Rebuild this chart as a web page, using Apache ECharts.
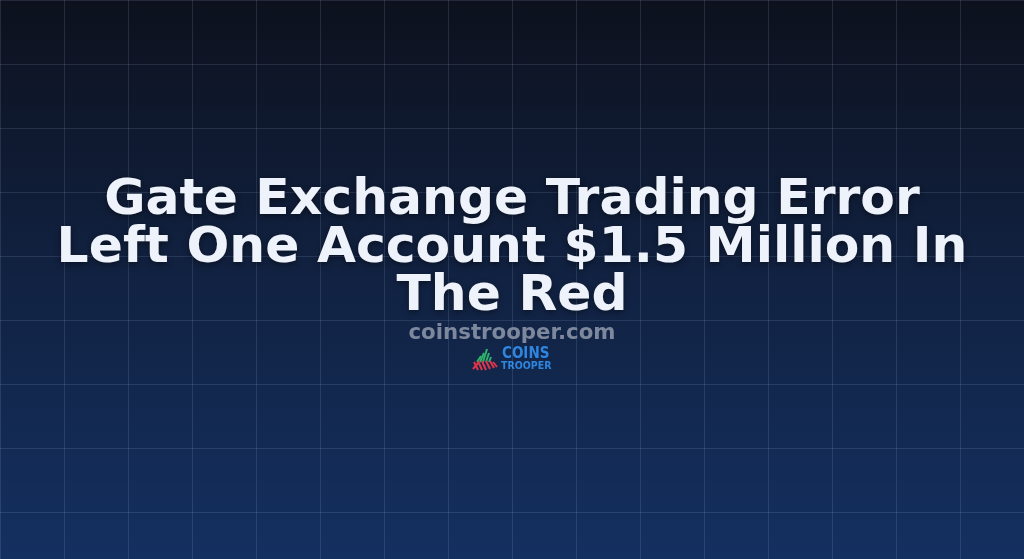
<!DOCTYPE html>
<html>
<head>
<meta charset="utf-8">
<script src="https://cdn.jsdelivr.net/npm/echarts@6/dist/echarts.min.js"></script>
<style>
  html, body { margin: 0; padding: 0; background: #0e1320; }
  #chart { width: 1024px; height: 559px; }
</style>
</head>
<body>
<div id="chart"></div>
<script>
// text of the card
var titleLines = ['Gate Exchange Trading Error', 'Left One Account $1.5 Million In', 'The Red'];
var siteName = 'coinstrooper.com';
var logoWords = ['COINS', 'TROOPER'];
// background grid ticks (px)
var gridStep = 64;
var xRange = [0, 1024];
var yRange = [0, 559];

var chart = echarts.init(document.getElementById('chart'));

var fontFam = '"DejaVu Sans", sans-serif';

// logo icon: green strokes rising, red strokes under them
var greenStrokes = [[477, 362, 481, 356], [480, 362, 484, 353], [483, 362, 487, 349], [486, 362, 489, 353], [489, 362, 491, 357]];
var redStrokes = [[474, 362, 478, 370], [478, 361, 482, 370], [482, 361, 486, 370], [486, 361, 490, 369], [490, 361, 494, 368], [493, 362, 497, 367]];

var logoGraphic = [];
greenStrokes.forEach(function (s) {
    logoGraphic.push({
        type: 'line', shape: { x1: s[0], y1: s[1], x2: s[2], y2: s[3] },
        style: { stroke: '#2fb36b', lineWidth: 2 }
    });
});
redStrokes.forEach(function (s) {
    logoGraphic.push({
        type: 'line', shape: { x1: s[0], y1: s[1], x2: s[2], y2: s[3] },
        style: { stroke: '#e0354a', lineWidth: 2 }
    });
});
logoGraphic.push({
    type: 'line', shape: { x1: 473, y1: 369, x2: 479, y2: 362 },
    style: { stroke: '#e0354a', lineWidth: 2 }
});
logoGraphic.push({
    type: 'text', left: 502, top: 347,
    style: { text: logoWords[0], fill: '#2f86e0', font: 'bold 15px "DejaVu Sans Condensed", ' + fontFam }
});
logoGraphic.push({
    type: 'text', left: 501, top: 361,
    style: { text: logoWords[1], fill: '#2f86e0', font: 'bold 10.5px "DejaVu Sans Condensed", ' + fontFam }
});

var option = {
    backgroundColor: {
        type: 'linear', x: 0, y: 0, x2: 0, y2: 1,
        colorStops: [
            { offset: 0, color: '#0d111d' },
            { offset: 0.5, color: '#112242' },
            { offset: 1, color: '#143060' }
        ]
    },
    animation: false,
    grid: { left: 0, right: 0, top: 0, bottom: 0 },
    xAxis: {
        type: 'value', min: xRange[0], max: xRange[1], interval: gridStep,
        axisLine: { show: false }, axisTick: { show: false }, axisLabel: { show: false },
        splitLine: { show: true, lineStyle: { color: 'rgba(180,200,240,0.14)', width: 1 } }
    },
    yAxis: {
        type: 'value', inverse: true, min: yRange[0], max: yRange[1], interval: gridStep,
        axisLine: { show: false }, axisTick: { show: false }, axisLabel: { show: false },
        splitLine: { show: true, lineStyle: { color: 'rgba(180,200,240,0.14)', width: 1 } }
    },
    title: [{
        text: titleLines.join('\n'),
        left: 'center', top: 172,
        textStyle: {
            color: '#eef2fb', fontSize: 50.4, fontWeight: 'bold', fontFamily: fontFam,
            lineHeight: 48, align: 'center',
            textShadowColor: 'rgba(0,0,0,0.45)', textShadowBlur: 6, textShadowOffsetY: 2
        }
    }, {
        text: siteName,
        left: 'center', top: 318,
        textStyle: {
            color: '#7e889d', fontSize: 21.3, fontWeight: 'bold', fontFamily: fontFam
        }
    }],
    graphic: logoGraphic,
    series: []
};

chart.setOption(option);
</script>
</body>
</html>
